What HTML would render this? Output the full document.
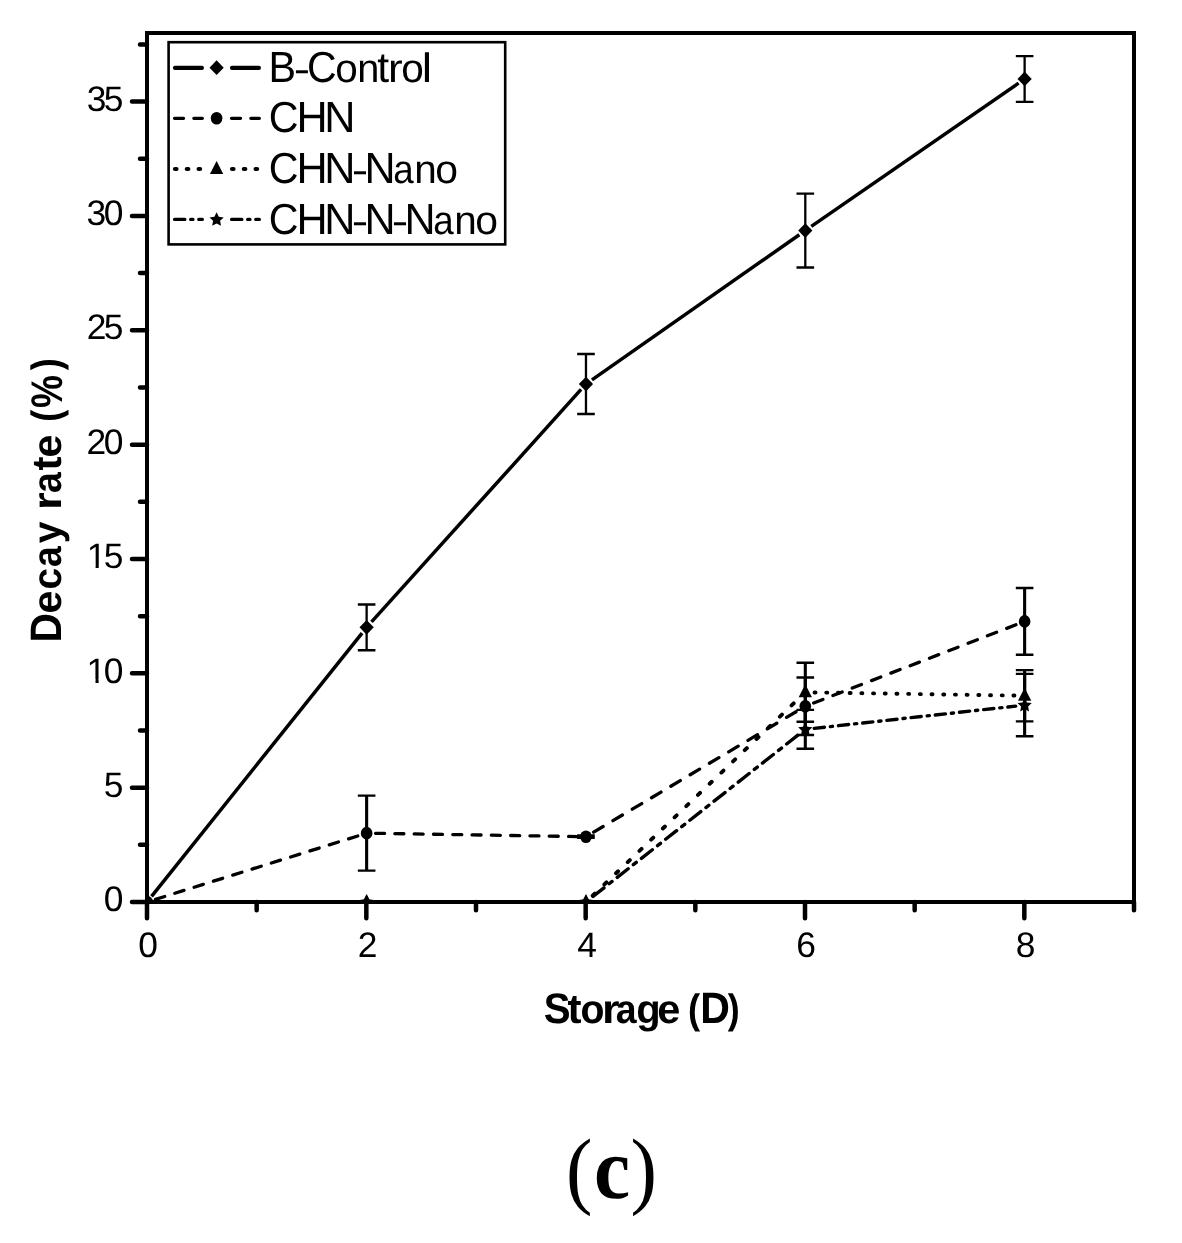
<!DOCTYPE html>
<html lang="en"><head><meta charset="utf-8"><title>Decay rate vs Storage (c)</title>
<style>html,body{margin:0;padding:0;background:#fff}body{width:1182px;height:1243px;overflow:hidden}svg{display:block}text{font-family:"Liberation Sans",sans-serif;fill:#000;text-rendering:geometricPrecision}.tk{font-size:35.4px}.lg{font-size:42px;letter-spacing:0px;stroke:none}.tt{font-size:42px;font-weight:bold;stroke:none}.lg{stroke:none}.cap{font-family:"Liberation Serif",serif;stroke:none}</style></head><body>
<svg width="1182" height="1243" viewBox="0 0 1182 1243" role="img" aria-label="Decay rate versus storage days">
<rect width="1182" height="1243" fill="#fff"/>
<defs><clipPath id="pc"><rect x="147" y="23" width="987" height="879"/></clipPath></defs>
<g clip-path="url(#pc)">
<g>
<line x1="151.56" y1="896.30" x2="362.07" y2="633.05" stroke="#000" stroke-width="3.5"/>
<line x1="371.52" y1="621.93" x2="581.08" y2="389.45" stroke="#000" stroke-width="3.5"/>
<line x1="591.95" y1="379.85" x2="799.32" y2="234.77" stroke="#000" stroke-width="3.5"/>
<line x1="811.30" y1="226.43" x2="1018.63" y2="83.12" stroke="#000" stroke-width="3.5"/>
</g>
<g>
<line x1="155.54" y1="899.32" x2="358.09" y2="835.84" stroke="#000" stroke-width="3.3" stroke-dasharray="9.59 10.64" stroke-linecap="round"/>
<line x1="375.58" y1="833.31" x2="577.02" y2="836.57" stroke="#000" stroke-width="3.3" stroke-dasharray="9.00 10.30" stroke-linecap="round"/>
<line x1="593.66" y1="832.14" x2="797.61" y2="710.82" stroke="#000" stroke-width="3.3" stroke-dasharray="11.01 11.44" stroke-linecap="round"/>
<line x1="813.65" y1="703.02" x2="1016.29" y2="624.63" stroke="#000" stroke-width="3.3" stroke-dasharray="9.89 10.81" stroke-linecap="round"/>
</g>
<g>
<line x1="156.25" y1="902.00" x2="357.38" y2="902.00" stroke="#000" stroke-width="3.9" stroke-dasharray="1.00 10.70" stroke-linecap="round"/>
<line x1="375.88" y1="902.00" x2="576.72" y2="902.00" stroke="#000" stroke-width="3.9" stroke-dasharray="1.00 10.70" stroke-linecap="round"/>
<line x1="592.65" y1="895.61" x2="798.61" y2="698.69" stroke="#000" stroke-width="3.9" stroke-dasharray="2.88 13.31" stroke-linecap="round"/>
<line x1="814.55" y1="692.44" x2="1015.38" y2="695.58" stroke="#000" stroke-width="3.9" stroke-dasharray="1.00 10.70" stroke-linecap="round"/>
</g>
<g>
<line x1="156.00" y1="902.00" x2="357.63" y2="902.00" stroke="#000" stroke-width="3.4" stroke-dasharray="10.20 5.90 2.20 5.90" stroke-linecap="round"/>
<line x1="375.63" y1="902.00" x2="576.97" y2="902.00" stroke="#000" stroke-width="3.4" stroke-dasharray="10.20 5.90 2.20 5.90" stroke-linecap="round"/>
<line x1="593.04" y1="896.43" x2="798.23" y2="734.91" stroke="#000" stroke-width="3.4" stroke-dasharray="13.91 6.58 3.73 6.58" stroke-linecap="round"/>
<line x1="814.25" y1="728.35" x2="1015.69" y2="706.09" stroke="#000" stroke-width="3.4" stroke-dasharray="10.28 5.92 2.23 5.92" stroke-linecap="round"/>
</g>
<path d="M366.63 604.48V650.22M585.97 354.07V413.99M805.30 193.65V267.52M1024.63 56.10V101.83" fill="none" stroke="#000" stroke-width="2.3"/>
<path d="M357.83 604.48H375.43M357.83 650.22H375.43M577.17 354.07H594.77M577.17 413.99H594.77M796.50 193.65H814.10M796.50 267.52H814.10M1015.83 56.10H1033.43M1015.83 101.83H1033.43" fill="none" stroke="#000" stroke-width="2.4"/>
<path d="M366.63 795.66V870.67M585.97 835.52V837.90M805.30 677.43V735.06M1024.63 588.02V654.79" fill="none" stroke="#000" stroke-width="3.1"/>
<path d="M357.83 795.66H375.43M357.83 870.67H375.43M577.17 835.52H594.77M577.17 837.90H594.77M796.50 677.43H814.10M796.50 735.06H814.10M1015.83 588.02H1033.43M1015.83 654.79H1033.43" fill="none" stroke="#000" stroke-width="2.4"/>
<path d="M805.30 662.80V721.80M1024.63 670.11V721.34" fill="none" stroke="#000" stroke-width="3.1"/>
<path d="M796.50 662.80H814.10M796.50 721.80H814.10M1015.83 670.11H1033.43M1015.83 721.34H1033.43" fill="none" stroke="#000" stroke-width="2.4"/>
<path d="M805.30 709.91V748.78M1024.63 673.89V736.32" fill="none" stroke="#000" stroke-width="3.1"/>
<path d="M796.50 709.91H814.10M796.50 748.78H814.10M1015.83 673.89H1033.43M1015.83 736.32H1033.43" fill="none" stroke="#000" stroke-width="2.4"/>
<g fill="#000">
<path d="M139.90 902.00L147.00 894.60L154.10 902.00L147.00 909.40Z"/>
<path d="M359.53 627.35L366.63 619.95L373.73 627.35L366.63 634.75Z"/>
<path d="M578.87 384.03L585.97 376.63L593.07 384.03L585.97 391.43Z"/>
<path d="M798.20 230.58L805.30 223.18L812.40 230.58L805.30 237.98Z"/>
<path d="M1017.53 78.97L1024.63 71.57L1031.73 78.97L1024.63 86.37Z"/>
</g>
<g fill="#000">
<ellipse cx="147.00" cy="902.00" rx="5.8" ry="6.3"/>
<ellipse cx="366.63" cy="833.17" rx="5.8" ry="6.3"/>
<ellipse cx="585.97" cy="836.71" rx="5.8" ry="6.3"/>
<ellipse cx="805.30" cy="706.25" rx="5.8" ry="6.3"/>
<ellipse cx="1024.63" cy="621.40" rx="5.8" ry="6.3"/>
</g>
<g fill="#000">
<path d="M147.00 893.90L153.65 906.90L140.35 906.90Z"/>
<path d="M366.63 893.90L373.28 906.90L359.98 906.90Z"/>
<path d="M585.97 893.90L592.62 906.90L579.32 906.90Z"/>
<path d="M805.30 684.20L811.95 697.20L798.65 697.20Z"/>
<path d="M1024.63 687.63L1031.28 700.63L1017.98 700.63Z"/>
</g>
<g fill="#000">
<path d="M147.00 894.80L149.17 899.31L154.13 899.98L150.52 903.44L151.41 908.37L147.00 906.00L142.59 908.37L143.48 903.44L139.87 899.98L144.83 899.31Z"/>
<path d="M366.63 894.80L368.81 899.31L373.77 899.98L370.15 903.44L371.04 908.37L366.63 906.00L362.22 908.37L363.11 903.44L359.50 899.98L364.46 899.31Z"/>
<path d="M585.97 894.80L588.14 899.31L593.10 899.98L589.49 903.44L590.38 908.37L585.97 906.00L581.56 908.37L582.45 903.44L578.83 899.98L583.79 899.31Z"/>
<path d="M805.30 722.14L807.47 726.65L812.43 727.33L808.82 730.79L809.71 735.71L805.30 733.34L800.89 735.71L801.78 730.79L798.17 727.33L803.13 726.65Z"/>
<path d="M1024.63 697.90L1026.81 702.41L1031.77 703.09L1028.15 706.55L1029.04 711.47L1024.63 709.10L1020.22 711.47L1021.11 706.55L1017.50 703.09L1022.46 702.41Z"/>
</g>
</g>
<rect x="147" y="33" width="987" height="869" fill="none" stroke="#000" stroke-width="4"/>
<path d="M147.00 902.00H132.00M147.00 787.66H132.00M147.00 673.32H132.00M147.00 558.97H132.00M147.00 444.63H132.00M147.00 330.29H132.00M147.00 215.95H132.00M147.00 101.61H132.00M147.00 844.83H140.00M147.00 730.49H140.00M147.00 616.14H140.00M147.00 501.80H140.00M147.00 387.46H140.00M147.00 273.12H140.00M147.00 158.78H140.00M147.00 44.43H140.00M147.00 902.00V918.20M366.33 902.00V918.20M585.67 902.00V918.20M805.00 902.00V918.20M1024.33 902.00V918.20M256.67 902.00V910.20M476.00 902.00V910.20M695.33 902.00V910.20M914.67 902.00V910.20M1134.00 902.00V910.20" fill="none" stroke="#000" stroke-width="4.5" stroke-linecap="round"/>
<text class="tk" x="103.70" y="911.20">0</text>
<text class="tk" x="103.80" y="796.86">5</text>
<text class="tk" x="86.60 103.70" y="682.52">10</text>
<path d="M88.59 679.17H95.50V683.22H88.59ZM98.63 679.17H105.25V683.22H98.63Z" fill="#fff"/>
<text class="tk" x="86.70 103.80" y="568.17">15</text>
<path d="M88.70 564.83H95.60V568.87H88.70ZM98.73 564.83H105.36V568.87H98.73Z" fill="#fff"/>
<text class="tk" x="86.60 103.70" y="453.83">20</text>
<text class="tk" x="86.70 103.80" y="339.49">25</text>
<text class="tk" x="86.60 103.70" y="225.15">30</text>
<text class="tk" x="86.70 103.80" y="110.81">35</text>
<text class="tk" x="138.36" y="956.55">0</text>
<text class="tk" x="357.69" y="956.55">2</text>
<text class="tk" x="577.14" y="956.55">4</text>
<text class="tk" x="796.24" y="956.55">6</text>
<text class="tk" x="1015.69" y="956.55">8</text>
<text class="tt" transform="translate(0 1023.1)"><tspan x="543.74" y="0.00" font-size="42.80" textLength="26.83" lengthAdjust="spacingAndGlyphs">S</tspan><tspan x="567.59" y="0.00" font-size="41.50" textLength="14.03" lengthAdjust="spacingAndGlyphs">t</tspan><tspan x="580.47" y="0.00" font-size="40.50" textLength="23.97" lengthAdjust="spacingAndGlyphs">o</tspan><tspan x="601.93" y="0.00" font-size="40.50" textLength="17.56" lengthAdjust="spacingAndGlyphs">r</tspan><tspan x="615.80" y="0.00" font-size="40.50" textLength="20.86" lengthAdjust="spacingAndGlyphs">a</tspan><tspan x="636.36" y="0.00" font-size="40.50" textLength="24.41" lengthAdjust="spacingAndGlyphs">g</tspan><tspan x="657.38" y="0.00" font-size="40.50" textLength="23.09" lengthAdjust="spacingAndGlyphs">e</tspan><tspan> </tspan><tspan x="687.98" y="-0.60" font-size="41.00" textLength="12.15" lengthAdjust="spacingAndGlyphs">(</tspan><tspan x="700.25" y="0.00" font-size="44.00" textLength="29.67" lengthAdjust="spacingAndGlyphs">D</tspan><tspan x="727.87" y="-0.60" font-size="41.00" textLength="11.92" lengthAdjust="spacingAndGlyphs">)</tspan></text>
<text class="tt" transform="translate(61.0 639.8) rotate(-90)"><tspan x="-2.72" y="0.00" font-size="44.00" textLength="29.38" lengthAdjust="spacingAndGlyphs">D</tspan><tspan x="26.40" y="0.00" font-size="40.50" textLength="22.80" lengthAdjust="spacingAndGlyphs">e</tspan><tspan x="50.38" y="0.00" font-size="40.50" textLength="21.66" lengthAdjust="spacingAndGlyphs">c</tspan><tspan x="72.91" y="0.00" font-size="40.50" textLength="20.65" lengthAdjust="spacingAndGlyphs">a</tspan><tspan x="96.49" y="0.00" font-size="40.50" textLength="21.71" lengthAdjust="spacingAndGlyphs">y</tspan><tspan> </tspan><tspan x="129.90" y="0.00" font-size="40.50" textLength="17.68" lengthAdjust="spacingAndGlyphs">r</tspan><tspan x="146.80" y="0.00" font-size="40.50" textLength="20.81" lengthAdjust="spacingAndGlyphs">a</tspan><tspan x="169.39" y="0.00" font-size="41.50" textLength="14.03" lengthAdjust="spacingAndGlyphs">t</tspan><tspan x="182.28" y="0.00" font-size="40.50" textLength="23.03" lengthAdjust="spacingAndGlyphs">e</tspan><tspan> </tspan><tspan x="218.00" y="-0.60" font-size="41.00" textLength="12.04" lengthAdjust="spacingAndGlyphs">(</tspan><tspan x="231.93" y="0.60" font-size="44.30" textLength="32.95" lengthAdjust="spacingAndGlyphs">%</tspan><tspan x="269.67" y="-0.60" font-size="41.00" textLength="11.92" lengthAdjust="spacingAndGlyphs">)</tspan></text>
<rect x="168.6" y="42.2" width="336.6" height="202.2" fill="#fff" stroke="#000" stroke-width="2.6"/>
<line x1="175" y1="67.9" x2="201.9" y2="67.9" stroke="#000" stroke-width="4.2" stroke-linecap="round"/>
<line x1="232" y1="67.9" x2="258.9" y2="67.9" stroke="#000" stroke-width="4.2" stroke-linecap="round"/>
<g fill="#000"><path d="M209.50 67.70L216.60 60.30L223.70 67.70L216.60 75.10Z"/></g>
<text class="lg" transform="translate(0 81.90)"><tspan x="268.61" y="0.00" font-size="43.50" textLength="27.57" lengthAdjust="spacingAndGlyphs">B</tspan><tspan x="293.82" y="-0.25" font-size="38.50" textLength="16.37" lengthAdjust="spacingAndGlyphs">-</tspan><tspan x="306.92" y="0.00" font-size="43.50" textLength="29.65" lengthAdjust="spacingAndGlyphs">C</tspan><tspan x="335.30" y="0.00" font-size="40.20" textLength="22.50" lengthAdjust="spacingAndGlyphs">o</tspan><tspan x="357.36" y="0.00" font-size="40.20" textLength="22.13" lengthAdjust="spacingAndGlyphs">n</tspan><tspan x="377.35" y="0.00" font-size="42.50" textLength="11.86" lengthAdjust="spacingAndGlyphs">t</tspan><tspan x="388.08" y="0.00" font-size="40.20" textLength="14.65" lengthAdjust="spacingAndGlyphs">r</tspan><tspan x="401.30" y="0.00" font-size="40.20" textLength="22.56" lengthAdjust="spacingAndGlyphs">o</tspan><tspan x="421.76" y="0.00" font-size="41.10" textLength="10.36" lengthAdjust="spacingAndGlyphs">l</tspan></text>
<line x1="174.55" y1="118.3" x2="202.35" y2="118.3" stroke="#000" stroke-width="3.3" stroke-linecap="round" stroke-dasharray="9 10.3"/>
<line x1="231.55" y1="118.3" x2="259.35" y2="118.3" stroke="#000" stroke-width="3.3" stroke-linecap="round" stroke-dasharray="9 10.3"/>
<g fill="#000"><ellipse cx="216.60" cy="118.30" rx="5.8" ry="6.3"/></g>
<text class="lg" transform="translate(0 131.90)"><tspan x="268.81" y="0.00" font-size="43.50" textLength="29.76" lengthAdjust="spacingAndGlyphs">C</tspan><tspan x="296.46" y="0.00" font-size="43.50" textLength="31.16" lengthAdjust="spacingAndGlyphs">H</tspan><tspan x="324.35" y="0.00" font-size="43.50" textLength="31.22" lengthAdjust="spacingAndGlyphs">N</tspan></text>
<line x1="175" y1="169" x2="201.9" y2="169" stroke="#000" stroke-width="4.2" stroke-linecap="round" stroke-dasharray="1.5 10.3"/>
<line x1="232" y1="169" x2="258.9" y2="169" stroke="#000" stroke-width="4.2" stroke-linecap="round" stroke-dasharray="1.5 10.3"/>
<g fill="#000"><path d="M216.60 160.90L223.25 173.90L209.95 173.90Z"/></g>
<text class="lg" transform="translate(0 182.90)"><tspan x="268.81" y="0.00" font-size="43.50" textLength="29.76" lengthAdjust="spacingAndGlyphs">C</tspan><tspan x="296.46" y="0.00" font-size="43.50" textLength="31.16" lengthAdjust="spacingAndGlyphs">H</tspan><tspan x="324.35" y="0.00" font-size="43.50" textLength="31.22" lengthAdjust="spacingAndGlyphs">N</tspan><tspan x="351.70" y="-0.25" font-size="38.50" textLength="16.50" lengthAdjust="spacingAndGlyphs">-</tspan><tspan x="364.47" y="0.00" font-size="43.50" textLength="31.09" lengthAdjust="spacingAndGlyphs">N</tspan><tspan x="393.34" y="0.00" font-size="40.20" textLength="20.46" lengthAdjust="spacingAndGlyphs">a</tspan><tspan x="414.21" y="0.00" font-size="40.20" textLength="22.52" lengthAdjust="spacingAndGlyphs">n</tspan><tspan x="435.33" y="0.00" font-size="40.20" textLength="22.73" lengthAdjust="spacingAndGlyphs">o</tspan></text>
<line x1="174.6" y1="219.4" x2="202.3" y2="219.4" stroke="#000" stroke-width="3.4" stroke-linecap="round" stroke-dasharray="10.2 5.9 2.2 5.9"/>
<line x1="231.6" y1="219.4" x2="259.3" y2="219.4" stroke="#000" stroke-width="3.4" stroke-linecap="round" stroke-dasharray="10.2 5.9 2.2 5.9"/>
<g fill="#000"><path d="M216.60 212.20L218.77 216.71L223.73 217.38L220.12 220.84L221.01 225.77L216.60 223.40L212.19 225.77L213.08 220.84L209.47 217.38L214.43 216.71Z"/></g>
<text class="lg" transform="translate(0 233.90)"><tspan x="268.81" y="0.00" font-size="43.50" textLength="29.76" lengthAdjust="spacingAndGlyphs">C</tspan><tspan x="296.46" y="0.00" font-size="43.50" textLength="31.16" lengthAdjust="spacingAndGlyphs">H</tspan><tspan x="324.35" y="0.00" font-size="43.50" textLength="31.22" lengthAdjust="spacingAndGlyphs">N</tspan><tspan x="351.70" y="-0.25" font-size="38.50" textLength="16.50" lengthAdjust="spacingAndGlyphs">-</tspan><tspan x="364.52" y="0.00" font-size="43.50" textLength="31.09" lengthAdjust="spacingAndGlyphs">N</tspan><tspan x="391.70" y="-0.25" font-size="38.50" textLength="16.50" lengthAdjust="spacingAndGlyphs">-</tspan><tspan x="404.47" y="0.00" font-size="43.50" textLength="31.09" lengthAdjust="spacingAndGlyphs">N</tspan><tspan x="433.34" y="0.00" font-size="40.20" textLength="20.46" lengthAdjust="spacingAndGlyphs">a</tspan><tspan x="454.21" y="0.00" font-size="40.20" textLength="22.52" lengthAdjust="spacingAndGlyphs">n</tspan><tspan x="475.33" y="0.00" font-size="40.20" textLength="22.73" lengthAdjust="spacingAndGlyphs">o</tspan></text>
<text class="cap" transform="translate(566.1 1197.6) scale(0.925 1)" style="font-size:85.9px">(</text>
<text class="cap" transform="translate(594.1 1198.3) scale(0.928 1)" style="font-size:87.7px;font-weight:bold">c</text>
<text class="cap" transform="translate(630.4 1197.6) scale(0.925 1)" style="font-size:85.9px">)</text>
</svg></body></html>
